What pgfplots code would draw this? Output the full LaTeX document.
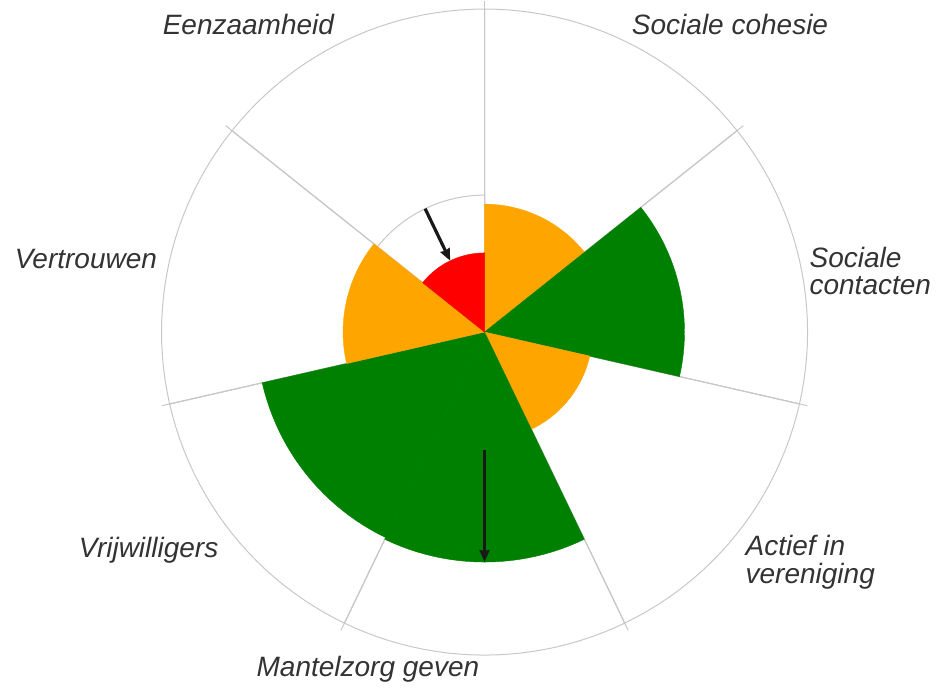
\documentclass[border=0pt]{standalone}
\usepackage{pgfplots}
\pgfplotsset{compat=1.18}
\usepackage{pgfplotstable}
\usepackage{fontspec}
\setmainfont{Liberation Sans}
\usetikzlibrary{arrows.meta}

\definecolor{oranje}{HTML}{FFA500}
\definecolor{groen}{HTML}{008000}
\definecolor{rood}{HTML}{FF0000}
\definecolor{lijn}{HTML}{C8C8C8}
\definecolor{tekst}{HTML}{333333}

\tikzset{lbl/.style={font=\fontsize{14}{14}\selectfont\itshape, text=tekst, inner sep=0pt}}

% one row per sector, clockwise from the top; radius as % of the outer circle
\pgfplotstableread{
nr waarde kleur
0  39.6   oranje
1  61.9   groen
2  33.4   oranje
3  71.2   groen
4  70.6   groen
5  43.8   oranje
6  24.5   rood
}\rose

% earlier value -> current value (arrows)
\pgfplotstableread{
nr hoek    van  naar
3  -90     36.5 71.2
6  115.714 42.4 24.5
}\pijlen

% corner points of sector #1 (of 7) with radius #2, in (angle,radius)
\newcommand\sectorpts[2]{%
  \gdef\pts{(0,0)}%
  \foreach \k in {0,...,24}{%
    \pgfmathsetmacro\th{90-360/7*(#1+\k/24)}%
    \xdef\pts{\pts (\th,#2)}%
  }%
  \xdef\pts{\pts (0,0)}%
}

\begin{document}
\begin{tikzpicture}
\begin{axis}[
  width=323pt, height=323pt, scale only axis,
  xmin=-100, xmax=100, ymin=-100, ymax=100,
  hide axis, clip=false,
]
% empty outer sectors, spokes running a little past the rim
\pgfplotsinvokeforeach{0,...,6}{%
  \sectorpts{#1}{100}%
  \edef\tmp{\noexpand\addplot[data cs=polar, fill=white, draw=lijn, line width=0.5pt] coordinates {\pts};}\tmp
  \pgfmathsetmacro\sp{90-360/7*#1}%
  \edef\tmp{\noexpand\addplot[data cs=polar, draw=lijn, line width=0.5pt] coordinates {(\sp,0) (\sp,102.5)};}\tmp
}
% earlier value of Eenzaamheid
\sectorpts{6}{42.4}
\edef\tmp{\noexpand\addplot[data cs=polar, fill=white, draw=lijn, line width=0.5pt] coordinates {\pts};}\tmp
% coloured sectors
\pgfplotsinvokeforeach{0,...,6}{%
  \pgfplotstablegetelem{#1}{waarde}\of\rose \let\rr\pgfplotsretval
  \pgfplotstablegetelem{#1}{kleur}\of\rose \let\kk\pgfplotsretval
  \sectorpts{#1}{\rr}%
  \edef\tmp{\noexpand\addplot[data cs=polar, fill=\kk, draw=\kk, line width=0.2pt] coordinates {\pts};}\tmp
}
% arrows
\pgfplotsinvokeforeach{0,1}{%
  \pgfplotstablegetelem{#1}{hoek}\of\pijlen \let\hh\pgfplotsretval
  \pgfplotstablegetelem{#1}{van}\of\pijlen \let\aa\pgfplotsretval
  \pgfplotstablegetelem{#1}{naar}\of\pijlen \let\bb\pgfplotsretval
  \edef\tmp{\noexpand\addplot[data cs=polar, draw=black!90, line width=1.6pt,
    -{Stealth[length=6pt, width=5pt, inset=0.5pt]}] coordinates {(\hh,\aa) (\hh,\bb)};}\tmp
}

\node[lbl, anchor=base] at (axis cs:-73.1,92.0) {Eenzaamheid};
\node[lbl, anchor=base] at (axis cs:76.0,92.0) {Sociale cohesie};
\node[lbl, anchor=base west] at (axis cs:100.5,20.1) {Sociale};
\node[lbl, anchor=base west] at (axis cs:100.5,11.5) {contacten};
\node[lbl, anchor=base west] at (axis cs:80.7,-69.3) {Actief in};
\node[lbl, anchor=base west] at (axis cs:80.7,-77.8) {vereniging};
\node[lbl, anchor=base] at (axis cs:-36.1,-106.5) {Mantelzorg geven};
\node[lbl, anchor=base] at (axis cs:-104.0,-69.7) {Vrijwilligers};
\node[lbl, anchor=base] at (axis cs:-123.4,19.8) {Vertrouwen};

\coordinate (bl) at (axis cs:-150,-110.8);
\coordinate (tr) at (axis cs:141.3,102.8);
\end{axis}
\pgfresetboundingbox
\useasboundingbox (bl) rectangle (tr);
\end{tikzpicture}
\end{document}
